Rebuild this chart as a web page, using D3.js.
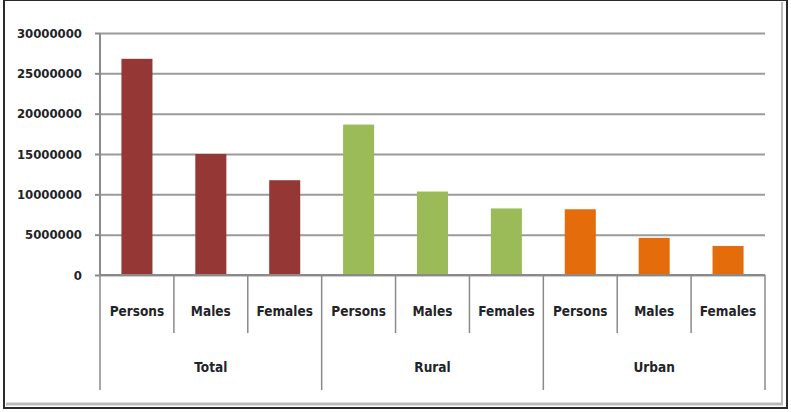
<!DOCTYPE html>
<html>
<head>
<meta charset="utf-8">
<script src="https://cdn.jsdelivr.net/npm/d3@7"></script>
<style>
  html, body { margin: 0; padding: 0; background: #fff; }
  text { font-family: "DejaVu Sans Condensed", "Liberation Sans Narrow", sans-serif; font-weight: bold; fill: #1f2428; }
</style>
</head>
<body>
<div id="chart"></div>
<script>
const groups = ["Total", "Rural", "Urban"];
const subs = ["Persons", "Males", "Females"];
const totalValues = [26800000, 15000000, 11750000];
const ruralValues = [18650000, 10350000, 8250000];
const urbanValues = [8150000, 4600000, 3600000];
const yTicks = [0, 5000000, 10000000, 15000000, 20000000, 25000000, 30000000];
const groupColors = ["#953735", "#9bbb59", "#e46c0a"];

const width = 791, height = 412;
const margin = { top: 33, right: 26, bottom: 135, left: 100 };
const innerWidth = width - margin.left - margin.right,
  innerHeight = height - margin.top - margin.bottom - 2;

const rows = [];
[totalValues, ruralValues, urbanValues].forEach((vals, gi) => {
  vals.forEach((v, si) => {
    rows.push({ group: groups[gi], sub: subs[si], key: groups[gi] + "|" + subs[si], value: v, color: groupColors[gi] });
  });
});

const svg = d3.select("#chart")
  .append("svg")
  .attr("width", width)
  .attr("height", height);

// frame
svg.append("rect")
  .attr("x", 0).attr("y", 0)
  .attr("width", width).attr("height", height)
  .style("fill", "#fff");
svg.append("line")
  .attr("x1", 6).attr("x2", 783).attr("y1", 404).attr("y2", 404)
  .style("stroke", "#bbb").style("stroke-width", 3);
svg.append("line")
  .attr("x1", 782).attr("x2", 782).attr("y1", 2).attr("y2", 404)
  .style("stroke", "#bbb").style("stroke-width", 2);
svg.append("rect")
  .attr("x", 4).attr("y", 0)
  .attr("width", 783).attr("height", 408)
  .style("fill", "none")
  .style("stroke", "#2a2a2a")
  .style("stroke-width", 2);

const g = svg.append("g")
  .attr("transform", `translate(${margin.left},${margin.top})`);

const xScale = d3.scaleBand()
  .domain(rows.map(d => d.key))
  .range([0, innerWidth])
  .paddingInner(0.58)
  .paddingOuter(0.29);

const yScale = d3.scaleLinear()
  .domain([0, 30000000])
  .range([innerHeight, 0]);

// gridlines
const grid = g.append("g")
  .call(d3.axisLeft(yScale).tickValues(yTicks).tickSize(-innerWidth).tickFormat(""));
grid.select(".domain").remove();
grid.selectAll(".tick line")
  .style("stroke", "#9a9a9a")
  .style("stroke-width", 2);

// y axis
const yAxis = g.append("g")
  .call(d3.axisLeft(yScale).tickValues(yTicks).tickSize(5).tickPadding(13).tickFormat(d3.format("d")));
yAxis.select(".domain")
  .attr("d", `M0,0V${innerHeight}`)
  .style("stroke", "#8a8a8a")
  .style("stroke-width", 2);
yAxis.selectAll(".tick line")
  .style("stroke", "#8a8a8a")
  .style("stroke-width", 2);
yAxis.selectAll(".tick text")
  .style("font-size", "13px")
  .style("font-family", '"DejaVu Sans Condensed", sans-serif')
  .style("font-weight", "bold")
  .style("fill", "#1f2428");

// bars
g.append("g")
  .selectAll("rect")
  .data(rows)
  .join("rect")
  .attr("x", d => xScale(d.key))
  .attr("y", d => yScale(d.value))
  .attr("width", xScale.bandwidth())
  .attr("height", d => innerHeight - yScale(d.value))
  .style("fill", d => d.color);

// category axis
const step = xScale.step();
const catAxis = g.append("g")
  .attr("transform", `translate(0,${innerHeight})`);

catAxis.append("line")
  .attr("x1", 0).attr("x2", innerWidth)
  .attr("y1", 0).attr("y2", 0)
  .style("stroke", "#8a8a8a").style("stroke-width", 2);

const boundaries = d3.range(rows.length + 1);
catAxis.selectAll(".sep")
  .data(boundaries)
  .join("line")
  .attr("class", "sep")
  .attr("x1", i => i * step)
  .attr("x2", i => i * step)
  .attr("y1", 0)
  .attr("y2", i => (i % subs.length === 0 ? 115 : 58))
  .style("stroke", "#8a8a8a")
  .style("stroke-width", 1.5);

catAxis.selectAll(".cat")
  .data(rows)
  .join("text")
  .attr("class", "cat")
  .attr("x", d => xScale(d.key) + xScale.bandwidth() / 2)
  .attr("y", 41)
  .attr("text-anchor", "middle")
  .style("font-size", "13.5px")
  .text(d => d.sub);

catAxis.selectAll(".grp")
  .data(groups)
  .join("text")
  .attr("class", "grp")
  .attr("x", (d, i) => (i * subs.length + subs.length / 2) * step)
  .attr("y", 97)
  .attr("text-anchor", "middle")
  .style("font-size", "13.5px")
  .text(d => d);
</script>
</body>
</html>
